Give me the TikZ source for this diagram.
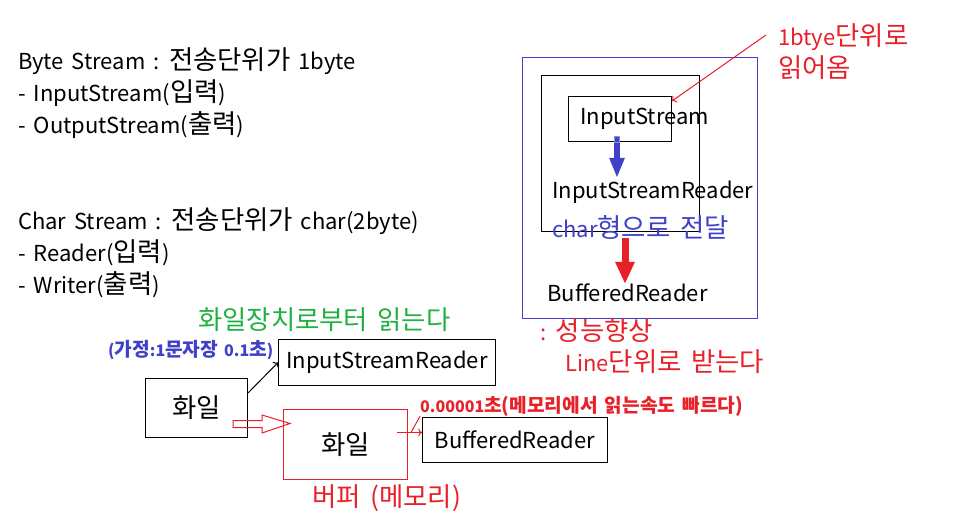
\documentclass[tikz,border=0pt]{standalone}
\usepackage{fontspec}
\setmainfont{Noto Sans CJK KR}[WordSpace=1.6]
\newfontfamily\kr{Noto Sans CJK KR}[Scale=1.2,WordSpace=1.6]
\newcommand\ko[1]{{\kr #1}}
\usetikzlibrary{positioning,arrows.meta}
\definecolor{penred}{RGB}{232,32,40}
\definecolor{penblue}{RGB}{64,64,200}
\definecolor{pengreen}{RGB}{32,176,64}

\tikzset{
  txt/.style={inner sep=0pt,anchor=west,font=\fontsize{22}{26}\selectfont},
  note/.style={inner sep=0pt,anchor=west,font=\fontsize{16}{18}\selectfont\bfseries},
  box/.style={draw,line width=1pt,inner sep=0pt,font=\fontsize{22}{26}\selectfont},
  thin/.style={line width=1pt}
}

\begin{document}
\begin{tikzpicture}[x=1pt,y=-1pt]
  \useasboundingbox[fill=white] (0,0) rectangle (977,521);
  % byte / char streams
  \node[txt] (bs)    at (18,61)  {Byte Stream : \ko{전송단위가} 1byte};
  \node[txt] (bsin)  at (18,93)  {- InputStream(\ko{입력})};
  \node[txt] (bsout) at (18,125) {- OutputStream(\ko{출력})};
  \node[txt] (cs)    at (18,221) {Char Stream : \ko{전송단위가} char(2byte)};
  \node[txt] (csin)  at (18,253) {- Reader(\ko{입력})};
  \node[txt] (csout) at (18,285) {- Writer(\ko{출력})};

  % stream chain
  \node[box,draw=penblue,minimum width=235,minimum height=261] (outer) at (640,188) {};
  \node[box,minimum width=158,minimum height=156] (inner) at (620.5,153.5) {};
  \node[box,minimum width=103,minimum height=45] (isbox) at (620,119) {};
  \node[txt] (is)  at (580,119) {InputStream};
  \node[txt] (isr) at (552,192) {InputStreamReader};
  \node[txt,text=penblue] (chr) at (552,227) {char\ko{형으로 전달}};
  \node[txt] (br)  at (547,293) {BufferedReader};
  \node[txt,text=penred] (perf) at (540,330) {: \ko{성능향상}};
  \node[txt,text=penred] (line) at (565,362) {Line\ko{단위로 받는다}};
  \node[txt,text=penred] (unit) at (778,37) {1btye\ko{단위로}};
  \node[txt,text=penred] (read) at (778,68) {\ko{읽어옴}};
  \coordinate (b1) at (617,137);
  \coordinate (b2) at (617,178);
  \coordinate (r1) at (625,238);
  \coordinate (r2) at (625,284);
  \coordinate (u1) at (766,35);
  \draw[penblue,line width=6pt,-{Triangle[length=20pt,width=14pt]}] (b1) -- (b2);
  \draw[penblue!60,line width=0.8pt] (614.5,136) rectangle (619.5,142);
  \draw[penred,line width=7pt,-{Triangle[length=22pt,width=18pt]}] (r1) -- (r2);
  \draw[penred,thin,->] (u1) -- ([yshift=-5pt]isbox.north east);

  % file -> buffer
  \node[txt,text=pengreen] (dev) at (198,320) {\ko{화일장치로부터 읽는다}};
  \node[note,text=penblue] (slow) at (108,350) {(\ko{가정}:1\ko{문자장} 0.1\ko{초})};
  \node[box,minimum width=217,minimum height=46] (isr2) at (387,362.5) {InputStreamReader};
  \node[box,minimum width=102,minimum height=59] (file1) at (196.5,408) {\ko{화일}};
  \node[box,draw=penred,minimum width=124,minimum height=70] (buf) at (345.5,444.5) {\ko{화일}};
  \node[txt,text=penred] (mem) at (312,498) {\ko{버퍼 (메모리)}};
  \node[box,minimum width=185,minimum height=45] (br2) at (515,440) {BufferedReader};
  \node[note,text=penred] (fast) at (420,406) {0.00001\ko{초(메모리에서 읽는속도 빠르다)}};
  \draw[thin,->] ([yshift=15pt]file1.east) -- (isr2.west);
  \draw[penred,thin]
    (233,420.5) -- (262,420.5) -- (262,415) -- (290,423.5) -- (262,433) -- (262,427.5) -- (233,427.5) -- cycle;
  \coordinate (m1) at (397,432.5);
  \coordinate (m2) at (411,432.5);
  \draw[penred,thin,->] (m1) -- ([yshift=7.5pt]br2.west);
  \draw[penred,thin] (m2) -- (fast.south west);
\end{tikzpicture}
\end{document}
